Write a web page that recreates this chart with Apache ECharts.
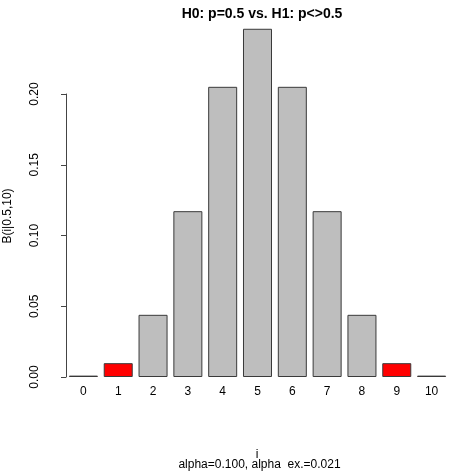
<!DOCTYPE html>
<html>
<head>
<meta charset="utf-8">
<script src="https://cdn.jsdelivr.net/npm/echarts@6/dist/echarts.min.js"></script>
<style>
  html, body { margin: 0; padding: 0; background: #fff; }
  #chart { width: 474px; height: 474px; }
</style>
</head>
<body>
<div id="chart"></div>
<script>
// B(i | 0.5, 10)
var categories = ["0", "1", "2", "3", "4", "5", "6", "7", "8", "9", "10"];
var probs = [0.000977, 0.009766, 0.043945, 0.117188, 0.205078, 0.246094,
             0.205078, 0.117188, 0.043945, 0.009766, 0.000977];
var rejectRegion = ["0", "1", "9", "10"];

var font = "Liberation Sans, Arial, sans-serif";

var barData = [];
for (let i = 0; i < categories.length; i++) {
  let inReject = rejectRegion.indexOf(categories[i]) >= 0;
  barData.push({
    value: probs[i],
    itemStyle: { color: inReject ? "#ff0000" : "#bebebe" },
  });
}

var myChart = echarts.init(document.getElementById("chart"));

function label(txt, x, y, size, weight, rot) {
  return {
    type: "text",
    x: x,
    y: y,
    rotation: rot || 0,
    style: {
      text: txt,
      fill: "#000",
      font: weight + " " + size + "px " + font,
      align: "center",
      verticalAlign: "middle",
    },
  };
}

var option = {
  animation: false,
  textStyle: { fontFamily: font },
  graphic: [
    label("H0: p=0.5 vs. H1: p<>0.5", 262, 14, 14, "bold"),
    label("B(i|0.5,10)", 8, 216, 12, "normal", Math.PI / 2),
    label("i", 257, 455, 12, "normal"),
    label("alpha=0.100, alpha  ex.=0.021", 259.5, 465, 12, "normal"),
  ],
  grid: [
    { left: 66, right: 25, top: 23.25, bottom: 97, outerBoundsMode: "none", containLabel: false },
    { left: 66, right: 25, top: 94, bottom: 97, outerBoundsMode: "none", containLabel: false },
  ],
  xAxis: [
    {
      gridIndex: 0,
      type: "category",
      data: categories,
      axisLine: { show: false },
      axisTick: { show: false },
      axisLabel: { margin: 9, fontSize: 12, color: "#000", fontFamily: font },
    },
    {
      gridIndex: 1,
      type: "value",
      show: false,
    },
  ],
  yAxis: [
    {
      gridIndex: 0,
      type: "value",
      min: 0,
      max: 0.25,
      show: false,
    },
    {
      gridIndex: 1,
      type: "value",
      min: 0,
      max: 0.2,
      interval: 0.05,
      offset: 14,
      axisLine: { show: true, lineStyle: { color: "#444", width: 1 } },
      axisTick: { show: true, length: 5, lineStyle: { color: "#444" } },
      splitLine: { show: false },
      axisLabel: {
        rotate: 90,
        margin: 11,
        fontSize: 12,
        color: "#000",
        fontFamily: font,
        formatter: function (v) { return v.toFixed(2); },
      },
    },
  ],
  series: [
    {
      type: "bar",
      xAxisIndex: 0,
      yAxisIndex: 0,
      data: barData,
      barCategoryGap: "16.7%",
      itemStyle: { borderColor: "#3a3a3a", borderWidth: 1 },
    },
  ],
};

myChart.setOption(option);
</script>
</body>
</html>
